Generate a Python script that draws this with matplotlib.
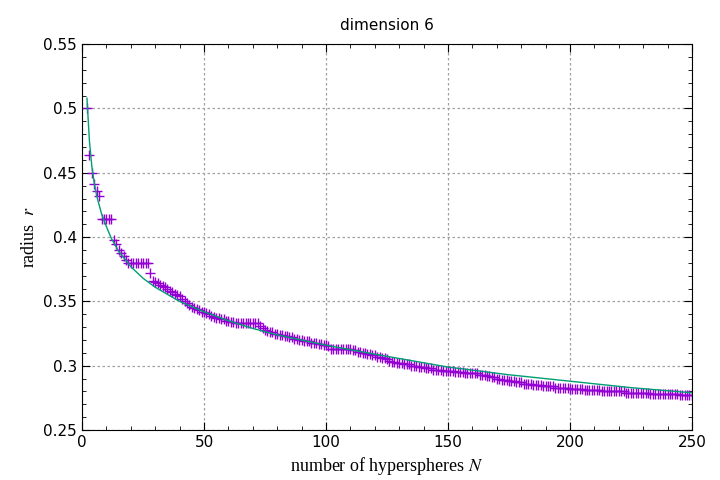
import numpy as np
import matplotlib.pyplot as plt

plt.rcParams['mathtext.fontset'] = 'stix'

n_vals = list(range(2, 251))
r_vals = [
    0.500, 0.464, 0.450, 0.441, 0.436, 0.432, 0.414, 0.414, 0.414, 0.414,
    0.414, 0.398, 0.395, 0.390, 0.388, 0.385, 0.382, 0.380, 0.380, 0.380,
    0.380, 0.380, 0.380, 0.380, 0.380, 0.380, 0.372, 0.366, 0.365, 0.364,
    0.363, 0.362, 0.361, 0.360, 0.358, 0.357, 0.356, 0.355, 0.354, 0.352,
    0.350, 0.349, 0.347, 0.346, 0.345, 0.344, 0.343, 0.342, 0.342, 0.341,
    0.340, 0.339, 0.338, 0.337, 0.337, 0.336, 0.336, 0.335, 0.335, 0.334,
    0.334, 0.333, 0.333, 0.333, 0.333, 0.333, 0.333, 0.333, 0.333, 0.333,
    0.333, 0.331, 0.329, 0.328, 0.327, 0.326, 0.326, 0.325, 0.325, 0.324,
    0.324, 0.323, 0.323, 0.322, 0.322, 0.321, 0.321, 0.320, 0.320, 0.319,
    0.319, 0.319, 0.318, 0.318, 0.318, 0.317, 0.317, 0.316, 0.316, 0.315,
    0.313, 0.313, 0.313, 0.313, 0.313, 0.313, 0.313, 0.313, 0.313, 0.312,
    0.312, 0.311, 0.311, 0.310, 0.310, 0.309, 0.309, 0.308, 0.308, 0.307,
    0.307, 0.306, 0.306, 0.305, 0.304, 0.303, 0.303, 0.302, 0.302, 0.302,
    0.301, 0.301, 0.301, 0.300, 0.300, 0.300, 0.299, 0.299, 0.299, 0.298,
    0.298, 0.298, 0.297, 0.297, 0.297, 0.297, 0.296, 0.296, 0.296, 0.296,
    0.296, 0.295, 0.295, 0.295, 0.295, 0.294, 0.294, 0.294, 0.294, 0.294,
    0.294, 0.293, 0.293, 0.293, 0.292, 0.292, 0.291, 0.291, 0.290, 0.290,
    0.289, 0.289, 0.289, 0.288, 0.288, 0.288, 0.287, 0.287, 0.287, 0.286,
    0.286, 0.286, 0.286, 0.285, 0.285, 0.285, 0.285, 0.284, 0.284, 0.284,
    0.284, 0.284, 0.283, 0.283, 0.283, 0.283, 0.283, 0.283, 0.282, 0.282,
    0.282, 0.282, 0.282, 0.282, 0.281, 0.281, 0.281, 0.281, 0.281, 0.281,
    0.281, 0.280, 0.280, 0.280, 0.280, 0.280, 0.280, 0.280, 0.280, 0.280,
    0.280, 0.279, 0.279, 0.279, 0.279, 0.279, 0.279, 0.279, 0.279, 0.279,
    0.279, 0.278, 0.278, 0.278, 0.278, 0.278, 0.278, 0.278, 0.278, 0.278,
    0.278, 0.278, 0.278, 0.277, 0.277, 0.277, 0.277, 0.277, 0.277,
]

# fitted curve
fit_n = [2, 3, 4, 5, 6, 8, 10, 12, 15, 20, 25, 30, 40, 50, 60, 70, 80, 100, 120, 150, 175, 200, 225, 250]
fit_r = [0.508, 0.475, 0.455, 0.442, 0.432, 0.418, 0.408, 0.399, 0.389, 0.377, 0.368, 0.361, 0.350,
         0.342, 0.335, 0.329, 0.324, 0.316, 0.309, 0.299, 0.293, 0.288, 0.283, 0.279]

fig = plt.figure(figsize=(7.2, 4.8), dpi=100)
ax = fig.add_axes([0.114, 0.104, 0.847, 0.804])

ax.plot(n_vals, r_vals, '+', color='#9400d3', markersize=7, markeredgewidth=1.0)
ax.plot(fit_n, fit_r, '-', color='#009e73', linewidth=1.0)

ax.set_xlim(0, 250)
ax.set_ylim(0.25, 0.55)
ax.set_xticks([0, 50, 100, 150, 200, 250])
ax.set_yticks([0.25, 0.3, 0.35, 0.4, 0.45, 0.5, 0.55])
ax.set_yticklabels(['0.25', '0.3', '0.35', '0.4', '0.45', '0.5', '0.55'])
ax.set_xticks(np.arange(0, 251, 10), minor=True)
ax.set_yticks(np.arange(0.25, 0.551, 0.01), minor=True)
ax.tick_params(which='both', direction='in', top=True, right=True, labelsize=11)
ax.tick_params(which='major', length=6)
ax.tick_params(which='minor', length=3)
ax.grid(True, which='major', color='#a0a0a0', linestyle=(0, (2, 2)), linewidth=0.9)

ax.set_title('dimension 6', fontsize=11, pad=10)
ax.set_xlabel(r'number of hyperspheres $N$', fontsize=13, family='Liberation Serif')
ax.set_ylabel(r'radius  $r$', fontsize=13, family='Liberation Serif')

fig.savefig('out.png')
